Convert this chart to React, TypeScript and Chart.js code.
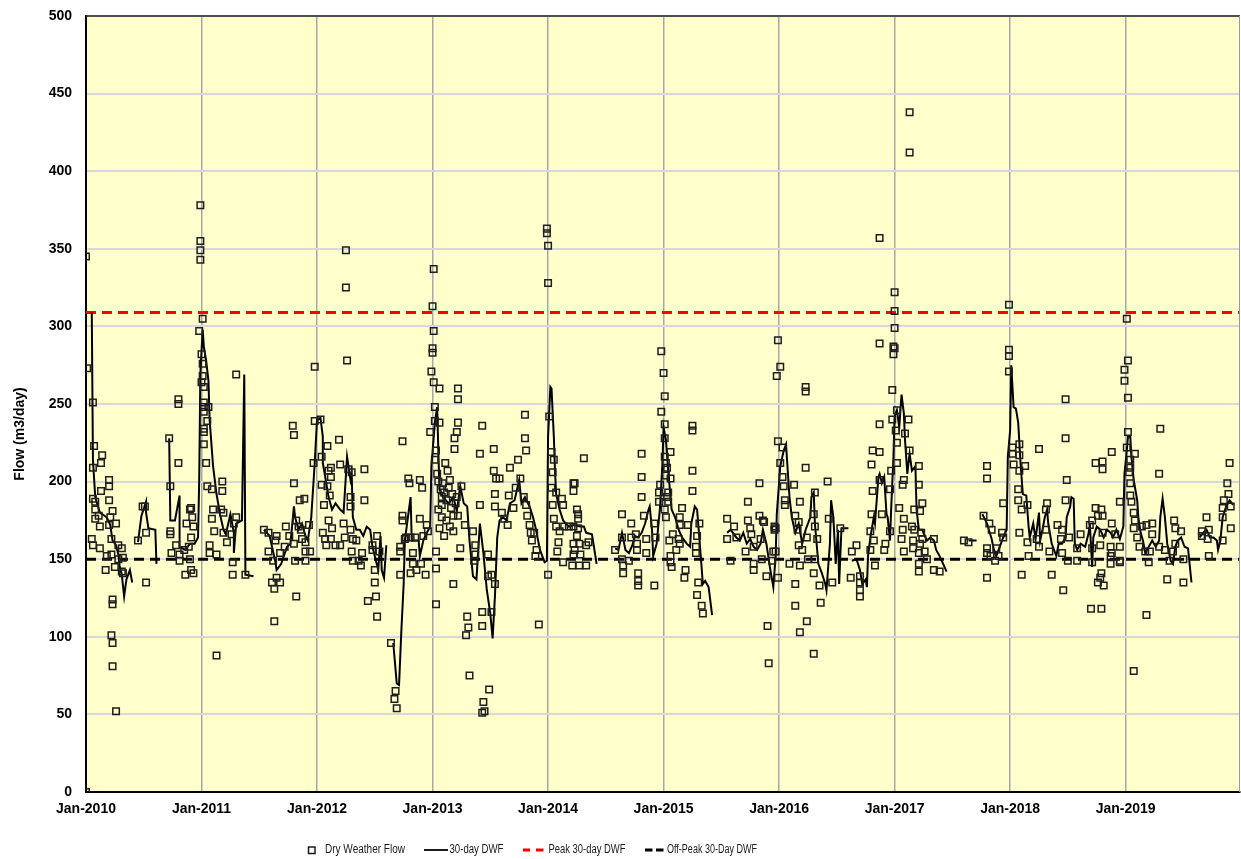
import React, { useEffect, useRef } from "react";
import { Chart, registerables } from "chart.js";
Chart.register(...registerables);

type P = [number, number];

const yearTicks = [2010, 2011, 2012, 2013, 2014, 2015, 2016, 2017, 2018, 2019];
const xMin = 2010;
const xMax = 2019.99;
const PEAK_30DAY = 309;
const OFFPEAK_30DAY = 150;

// Dry Weather Flow (decimal year, m3/day)
const dwf2010: P[] = [[2010.00,0],[2010.00,345],[2010.01,273],[2010.05,163],[2010.06,251],[2010.06,209],[2010.06,159],[2010.07,223],[2010.06,189],[2010.08,187],[2010.08,182],[2010.08,176],[2010.11,178],[2010.12,171],[2010.12,157],[2010.13,194],[2010.13,212],[2010.14,217],[2010.17,143],[2010.18,152],[2010.20,201],[2010.20,197],[2010.20,188],[2010.20,172],[2010.21,177],[2010.22,163],[2010.22,153],[2010.23,181],[2010.22,101],[2010.23,96],[2010.23,124],[2010.23,121],[2010.23,81],[2010.25,145],[2010.26,52],[2010.26,173],[2010.28,150],[2010.28,159],[2010.31,142],[2010.31,157],[2010.32,151],[2010.32,141],[2010.45,162],[2010.49,184],[2010.51,184],[2010.52,167],[2010.52,135],[2010.72,228],[2010.73,197],[2010.73,168],[2010.73,166],[2010.74,154],[2010.78,159],[2010.80,253],[2010.80,250],[2010.80,212],[2010.81,153],[2010.81,149],[2010.85,156],[2010.86,140],[2010.87,173],[2010.89,158],[2010.90,182],[2010.90,150],[2010.91,143],[2010.91,183],[2010.91,164],[2010.92,177],[2010.93,171],[2010.93,141],[2010.98,297],[2010.99,378],[2010.99,355],[2010.99,349],[2010.99,343]];
const dwf2011: P[] = [[2011.00,282],[2011.01,276],[2011.00,264],[2011.01,305],[2011.01,268],[2011.02,261],[2011.02,251],[2011.02,248],[2011.02,245],[2011.02,234],[2011.02,232],[2011.02,224],[2011.04,212],[2011.05,197],[2011.05,239],[2011.06,248],[2011.07,159],[2011.07,154],[2011.09,195],[2011.09,176],[2011.10,182],[2011.11,168],[2011.13,153],[2011.13,88],[2011.17,182],[2011.18,200],[2011.18,194],[2011.19,167],[2011.19,180],[2011.22,161],[2011.26,166],[2011.27,148],[2011.27,140],[2011.28,173],[2011.30,177],[2011.30,269],[2011.38,140],[2011.54,169],[2011.58,167],[2011.58,155],[2011.61,135],[2011.62,149],[2011.63,131],[2011.63,110],[2011.64,162],[2011.65,165],[2011.65,138],[2011.68,135],[2011.68,154],[2011.72,158],[2011.73,171],[2011.76,165],[2011.79,236],[2011.80,230],[2011.80,199],[2011.80,160],[2011.81,149],[2011.82,126],[2011.82,175],[2011.84,171],[2011.85,188],[2011.86,169],[2011.87,163],[2011.89,189],[2011.90,161],[2011.90,155],[2011.90,149],[2011.93,172],[2011.94,155],[2011.97,212],[2011.98,274],[2011.98,239]];
const dwf2012: P[] = [[2012.03,240],[2012.04,198],[2012.04,216],[2012.05,167],[2012.06,185],[2012.07,163],[2012.08,159],[2012.09,223],[2012.09,197],[2012.10,175],[2012.10,207],[2012.11,191],[2012.12,209],[2012.12,203],[2012.12,163],[2012.13,170],[2012.16,159],[2012.19,227],[2012.20,211],[2012.20,159],[2012.23,173],[2012.24,164],[2012.25,349],[2012.25,325],[2012.26,278],[2012.27,208],[2012.29,184],[2012.29,169],[2012.29,190],[2012.30,206],[2012.30,155],[2012.31,163],[2012.31,149],[2012.34,162],[2012.36,149],[2012.38,146],[2012.39,154],[2012.41,208],[2012.41,188],[2012.44,123],[2012.48,159],[2012.48,156],[2012.50,143],[2012.50,135],[2012.51,126],[2012.52,165],[2012.52,113],[2012.54,155],[2012.64,96],[2012.67,60],[2012.68,65],[2012.69,54],[2012.72,158],[2012.72,140],[2012.72,155],[2012.74,226],[2012.74,175],[2012.74,178],[2012.76,163],[2012.77,164],[2012.79,202],[2012.80,199],[2012.81,141],[2012.81,164],[2012.83,154],[2012.83,147],[2012.85,164],[2012.86,143],[2012.89,201],[2012.89,176],[2012.90,147],[2012.91,196],[2012.92,165],[2012.94,140],[2012.95,172],[2012.96,168],[2012.98,232],[2012.99,271]];
const dwf2013: P[] = [[2013.00,313],[2013.00,283],[2013.00,286],[2013.01,337],[2013.01,297],[2013.01,264],[2013.02,239],[2013.02,214],[2013.02,248],[2013.03,220],[2013.03,121],[2013.03,144],[2013.03,155],[2013.04,205],[2013.05,200],[2013.05,182],[2013.06,260],[2013.06,238],[2013.06,170],[2013.07,195],[2013.08,190],[2013.08,177],[2013.08,185],[2013.09,199],[2013.10,193],[2013.10,165],[2013.11,212],[2013.12,188],[2013.12,175],[2013.13,207],[2013.14,196],[2013.15,201],[2013.15,171],[2013.16,183],[2013.17,192],[2013.18,178],[2013.18,168],[2013.18,134],[2013.19,228],[2013.19,221],[2013.20,186],[2013.21,190],[2013.21,232],[2013.22,178],[2013.22,260],[2013.22,253],[2013.22,238],[2013.24,157],[2013.25,197],[2013.28,172],[2013.29,101],[2013.30,113],[2013.31,106],[2013.32,75],[2013.35,168],[2013.36,149],[2013.37,159],[2013.37,153],[2013.41,218],[2013.41,185],[2013.43,51],[2013.43,236],[2013.43,116],[2013.43,107],[2013.44,58],[2013.45,52],[2013.48,153],[2013.48,139],[2013.49,66],[2013.51,140],[2013.51,116],[2013.53,207],[2013.53,221],[2013.54,134],[2013.54,192],[2013.54,184],[2013.55,202],[2013.58,202],[2013.60,180],[2013.62,176],[2013.65,172],[2013.66,191],[2013.67,209],[2013.70,183],[2013.72,196],[2013.74,214],[2013.76,202],[2013.79,190],[2013.80,243],[2013.80,228],[2013.81,220],[2013.81,185],[2013.82,178],[2013.84,172],[2013.85,167],[2013.86,162],[2013.88,167],[2013.89,152],[2013.90,156],[2013.92,108],[2013.99,363],[2013.99,360]];
const dwf2014: P[] = [[2014.00,352],[2014.00,328],[2014.00,140],[2014.01,242],[2014.03,219],[2014.03,196],[2014.04,206],[2014.04,185],[2014.05,214],[2014.05,176],[2014.07,193],[2014.07,171],[2014.08,155],[2014.09,161],[2014.10,168],[2014.12,189],[2014.13,185],[2014.13,148],[2014.14,171],[2014.18,171],[2014.21,146],[2014.22,199],[2014.22,194],[2014.22,171],[2014.22,160],[2014.22,153],[2014.23,156],[2014.23,199],[2014.25,182],[2014.25,165],[2014.26,179],[2014.26,176],[2014.26,170],[2014.27,160],[2014.27,146],[2014.28,153],[2014.31,215],[2014.33,159],[2014.33,146],[2014.35,161],[2014.58,156],[2014.64,179],[2014.64,164],[2014.64,150],[2014.65,146],[2014.65,141],[2014.70,149],[2014.72,173],[2014.72,164],[2014.76,166],[2014.77,160],[2014.77,156],[2014.78,141],[2014.78,136],[2014.78,133],[2014.81,218],[2014.81,203],[2014.81,190],[2014.83,178],[2014.85,163],[2014.85,154],[2014.92,133],[2014.92,173],[2014.93,164],[2014.96,193],[2014.96,187],[2014.97,198],[2014.98,245],[2014.98,284]];
const dwf2015: P[] = [[2015.00,270],[2015.01,255],[2015.01,237],[2015.01,228],[2015.01,216],[2015.01,182],[2015.02,212],[2015.02,177],[2015.03,209],[2015.02,204],[2015.03,190],[2015.04,193],[2015.04,187],[2015.05,162],[2015.06,202],[2015.06,152],[2015.06,219],[2015.06,148],[2015.07,145],[2015.08,166],[2015.11,156],[2015.13,163],[2015.14,172],[2015.14,177],[2015.14,160],[2015.16,183],[2015.18,138],[2015.19,143],[2015.21,172],[2015.25,233],[2015.25,236],[2015.25,207],[2015.25,194],[2015.28,158],[2015.28,154],[2015.29,165],[2015.29,127],[2015.30,135],[2015.31,173],[2015.33,120],[2015.34,115],[2015.55,163],[2015.55,176],[2015.58,149],[2015.61,171],[2015.63,164],[2015.71,155],[2015.73,187],[2015.73,175],[2015.75,170],[2015.76,166],[2015.78,158],[2015.78,147],[2015.78,143],[2015.83,199],[2015.83,178],[2015.84,163],[2015.85,150],[2015.86,175],[2015.87,174],[2015.89,139],[2015.90,107],[2015.91,83],[2015.94,149],[2015.95,155],[2015.96,171],[2015.96,169],[2015.97,170],[2015.97,155],[2015.99,138],[2015.98,268],[2015.99,291],[2015.99,226]];
const dwf2016: P[] = [[2016.01,274],[2016.01,212],[2016.03,222],[2016.03,203],[2016.04,197],[2016.05,188],[2016.05,185],[2016.09,147],[2016.13,198],[2016.14,178],[2016.14,134],[2016.14,120],[2016.16,169],[2016.17,174],[2016.17,159],[2016.18,187],[2016.18,146],[2016.18,103],[2016.20,156],[2016.23,258],[2016.23,261],[2016.23,209],[2016.24,164],[2016.24,110],[2016.25,150],[2016.30,179],[2016.30,141],[2016.30,89],[2016.31,193],[2016.31,171],[2016.31,150],[2016.33,163],[2016.35,133],[2016.36,122],[2016.42,200],[2016.43,176],[2016.46,135],[2016.53,170],[2016.62,138],[2016.63,155],[2016.67,159],[2016.70,139],[2016.70,135],[2016.70,130],[2016.70,126],[2016.79,168],[2016.79,156],[2016.80,211],[2016.80,179],[2016.81,220],[2016.81,194],[2016.82,162],[2016.83,146],[2016.87,237],[2016.87,219],[2016.87,289],[2016.87,357],[2016.87,201],[2016.89,179],[2016.91,156],[2016.92,160],[2016.96,195],[2016.96,168],[2016.97,207],[2016.98,240],[2016.98,259],[2016.99,282],[2016.99,287]];
const dwf2017: P[] = [[2017.00,322],[2017.00,310],[2017.00,286],[2017.00,299],[2017.01,233],[2017.02,246],[2017.02,225],[2017.02,212],[2017.04,183],[2017.06,163],[2017.07,169],[2017.07,198],[2017.08,176],[2017.08,201],[2017.08,155],[2017.09,231],[2017.12,240],[2017.13,438],[2017.13,412],[2017.13,220],[2017.15,171],[2017.16,157],[2017.16,162],[2017.17,169],[2017.17,182],[2017.21,198],[2017.21,147],[2017.21,142],[2017.21,210],[2017.21,154],[2017.22,181],[2017.22,160],[2017.23,167],[2017.24,186],[2017.24,163],[2017.26,155],[2017.28,150],[2017.34,163],[2017.34,143],[2017.39,142],[2017.60,162],[2017.64,161],[2017.77,178],[2017.80,157],[2017.80,138],[2017.80,210],[2017.80,202],[2017.80,154],[2017.82,173],[2017.83,152],[2017.84,169],[2017.87,149],[2017.88,157],[2017.90,152],[2017.93,167],[2017.94,186],[2017.94,164],[2017.99,271],[2017.99,281],[2017.99,285],[2017.99,314]];
const dwf2018: P[] = [[2018.02,218],[2018.02,222],[2018.03,211],[2018.07,195],[2018.07,188],[2018.08,224],[2018.08,217],[2018.08,207],[2018.08,167],[2018.10,182],[2018.10,140],[2018.13,210],[2018.15,185],[2018.15,161],[2018.16,152],[2018.23,163],[2018.25,221],[2018.25,158],[2018.31,182],[2018.31,169],[2018.32,186],[2018.34,155],[2018.36,140],[2018.41,172],[2018.44,163],[2018.45,169],[2018.45,154],[2018.46,130],[2018.48,253],[2018.48,228],[2018.48,188],[2018.49,201],[2018.50,149],[2018.51,164],[2018.58,157],[2018.58,149],[2018.61,166],[2018.69,172],[2018.70,118],[2018.71,175],[2018.71,157],[2018.71,148],[2018.74,183],[2018.74,212],[2018.76,178],[2018.76,135],[2018.78,159],[2018.78,138],[2018.79,118],[2018.79,182],[2018.79,141],[2018.80,213],[2018.80,178],[2018.80,208],[2018.80,167],[2018.81,133],[2018.87,158],[2018.87,152],[2018.87,147],[2018.88,219],[2018.88,173],[2018.88,154],[2018.91,166],[2018.95,158],[2018.95,148],[2018.95,187],[2018.95,149],[2018.99,272],[2018.99,265]];
const dwf2019: P[] = [[2019.01,305],[2019.01,222],[2019.02,278],[2019.02,254],[2019.02,232],[2019.03,206],[2019.04,214],[2019.04,209],[2019.04,191],[2019.04,199],[2019.05,187],[2019.07,180],[2019.07,170],[2019.07,78],[2019.08,218],[2019.08,175],[2019.10,164],[2019.12,158],[2019.14,171],[2019.17,155],[2019.18,172],[2019.18,114],[2019.20,148],[2019.21,155],[2019.23,173],[2019.23,166],[2019.29,205],[2019.29,158],[2019.30,234],[2019.34,156],[2019.36,137],[2019.38,149],[2019.41,155],[2019.42,175],[2019.43,170],[2019.43,160],[2019.48,168],[2019.50,135],[2019.50,150],[2019.66,168],[2019.66,165],[2019.70,177],[2019.71,163],[2019.72,169],[2019.72,152],[2019.84,162],[2019.84,183],[2019.84,177],[2019.85,188],[2019.88,199],[2019.89,192],[2019.90,212],[2019.91,184],[2019.91,170]];

// 30-day DWF line segments (decimal year, m3/day); gaps between segments
const dwf30Seg1: P[] = [[2010.05,309],[2010.06,214],[2010.08,190],[2010.12,180],[2010.16,178],[2010.18,177],[2010.21,172],[2010.23,162],[2010.26,159],[2010.28,153],[2010.29,146],[2010.31,140],[2010.33,126],[2010.35,137],[2010.38,143],[2010.40,135]];
const dwf30Seg2: P[] = [[2010.45,161],[2010.48,178],[2010.52,187],[2010.52,180],[2010.54,170],[2010.60,169],[2010.61,147]];
const dwf30Seg3: P[] = [[2010.72,228],[2010.73,175],[2010.77,175],[2010.81,191],[2010.81,158],[2010.86,156],[2010.90,160],[2010.94,160],[2010.97,164],[2010.98,201],[2010.99,270],[2011.01,298],[2011.02,287],[2011.04,278],[2011.06,265],[2011.07,240],[2011.10,210],[2011.13,192],[2011.16,179],[2011.19,169],[2011.21,166],[2011.25,179],[2011.28,167],[2011.28,154],[2011.30,173],[2011.35,175],[2011.36,222],[2011.37,269],[2011.38,140],[2011.45,139]];
const dwf30Seg4: P[] = [[2011.54,169],[2011.59,165],[2011.64,148],[2011.65,143],[2011.69,147],[2011.74,158],[2011.77,160],[2011.80,184],[2011.81,177],[2011.84,169],[2011.87,173],[2011.90,165],[2011.92,162],[2011.95,177],[2011.98,212],[2012.00,240],[2012.03,241],[2012.05,229],[2012.05,212],[2012.08,199],[2012.10,190],[2012.13,182],[2012.16,186],[2012.20,182],[2012.23,180],[2012.26,216],[2012.29,201],[2012.30,205],[2012.31,177],[2012.34,169],[2012.37,169],[2012.40,165],[2012.43,171],[2012.46,169],[2012.48,158],[2012.51,149],[2012.53,143],[2012.55,165],[2012.56,143],[2012.58,138],[2012.60,159]];
const dwf30Seg5: P[] = [[2012.66,96],[2012.69,70],[2012.71,69],[2012.73,104],[2012.75,134],[2012.76,162],[2012.81,190],[2012.82,162],[2012.88,162],[2012.89,152],[2012.92,162],[2012.95,167],[2012.98,171],[2012.99,210],[2013.02,238],[2013.04,248],[2013.05,220],[2013.06,195],[2013.09,190],[2013.14,186],[2013.18,190],[2013.21,181],[2013.24,197],[2013.27,186],[2013.30,184],[2013.32,162],[2013.35,139],[2013.38,137],[2013.41,173],[2013.44,154],[2013.47,130],[2013.50,115],[2013.52,99],[2013.54,126],[2013.56,164],[2013.58,175],[2013.61,177],[2013.64,175],[2013.67,186],[2013.71,188],[2013.75,201],[2013.77,186],[2013.80,190],[2013.84,184],[2013.87,177],[2013.89,171],[2013.93,156],[2013.97,148],[2013.99,149],[2014.00,229],[2014.02,261],[2014.03,260],[2014.05,229],[2014.06,207],[2014.07,192],[2014.10,182],[2014.13,175],[2014.18,171],[2014.22,172],[2014.28,171],[2014.31,171],[2014.33,167],[2014.38,166],[2014.41,152],[2014.42,147]];
const dwf30Seg6: P[] = [[2014.58,157],[2014.61,156],[2014.64,167],[2014.67,156],[2014.70,154],[2014.73,159],[2014.75,165],[2014.78,164],[2014.81,167],[2014.84,173],[2014.87,182],[2014.88,184],[2014.90,169],[2014.91,152],[2014.94,160],[2014.97,184],[2014.99,212],[2015.00,235],[2015.02,227],[2015.04,207],[2015.07,182],[2015.10,177],[2015.13,169],[2015.16,164],[2015.20,160],[2015.23,158],[2015.24,173],[2015.27,184],[2015.29,182],[2015.32,154],[2015.34,134],[2015.36,136],[2015.39,132],[2015.42,114]];
const dwf30Seg7: P[] = [[2015.55,167],[2015.58,169],[2015.60,167],[2015.63,164],[2015.66,162],[2015.69,167],[2015.72,160],[2015.75,163],[2015.78,158],[2015.81,156],[2015.84,160],[2015.86,169],[2015.89,160],[2015.92,145],[2015.95,132],[2015.97,152],[2015.98,179],[2016.01,210],[2016.04,220],[2016.06,224],[2016.09,190],[2016.11,177],[2016.14,167],[2016.17,173],[2016.20,160],[2016.23,169],[2016.27,177],[2016.28,190],[2016.30,193],[2016.31,173],[2016.34,147],[2016.37,141],[2016.40,134],[2016.41,130],[2016.44,160],[2016.45,188],[2016.47,177],[2016.49,147],[2016.51,169],[2016.52,134],[2016.54,170],[2016.60,170]];
const dwf30Seg8: P[] = [[2016.63,149],[2016.67,150],[2016.70,143],[2016.72,134],[2016.75,137],[2016.76,132],[2016.77,152],[2016.79,164],[2016.82,177],[2016.83,173],[2016.86,203],[2016.87,205],[2016.89,199],[2016.91,203],[2016.93,179],[2016.94,177],[2016.96,162],[2016.97,182],[2016.99,216],[2017.00,242],[2017.02,246],[2017.04,235],[2017.06,256],[2017.08,244],[2017.09,227],[2017.11,205],[2017.12,212],[2017.13,218],[2017.15,207],[2017.18,210],[2017.19,182],[2017.21,169],[2017.24,169],[2017.25,167],[2017.28,162],[2017.31,164],[2017.34,162],[2017.36,156],[2017.39,152],[2017.42,147],[2017.45,142]];
const dwf30Seg9: P[] = [[2017.64,162],[2017.71,162]];
const dwf30Seg10: P[] = [[2017.76,179],[2017.80,173],[2017.84,163],[2017.86,156],[2017.88,152],[2017.91,158],[2017.94,164],[2017.97,169],[2017.98,216],[2018.00,233],[2018.01,275],[2018.03,248],[2018.05,247],[2018.07,238],[2018.09,212],[2018.11,192],[2018.14,191],[2018.16,171],[2018.17,164],[2018.20,173],[2018.22,163],[2018.25,180],[2018.26,162],[2018.28,169],[2018.30,177],[2018.32,182],[2018.33,173],[2018.36,160],[2018.39,154],[2018.40,152],[2018.42,160],[2018.45,160],[2018.48,164],[2018.49,177],[2018.52,184],[2018.53,190],[2018.55,189],[2018.56,160],[2018.58,156],[2018.61,160],[2018.65,158],[2018.68,167],[2018.69,173],[2018.71,145],[2018.72,164],[2018.75,171],[2018.78,169],[2018.81,164],[2018.84,169],[2018.87,167],[2018.89,164],[2018.92,169],[2018.95,163],[2018.98,171],[2018.99,205],[2019.01,220],[2019.02,229],[2019.04,229],[2019.05,216],[2019.07,201],[2019.10,188],[2019.11,177],[2019.13,167],[2019.15,162],[2019.17,154],[2019.20,158],[2019.23,162],[2019.26,158],[2019.29,162],[2019.30,177],[2019.32,189],[2019.34,177],[2019.36,160],[2019.39,149],[2019.41,147],[2019.43,158],[2019.45,162],[2019.48,164],[2019.51,158],[2019.54,157],[2019.57,135]];
const dwf30Seg11: P[] = [[2019.64,164],[2019.67,167],[2019.70,169],[2019.73,164],[2019.76,164],[2019.79,162],[2019.80,156],[2019.82,162],[2019.84,177],[2019.87,184],[2019.90,188],[2019.93,185]];

const dwfYears = [dwf2010, dwf2011, dwf2012, dwf2013, dwf2014, dwf2015, dwf2016, dwf2017, dwf2018, dwf2019];
const dwf30Segments = [dwf30Seg1, dwf30Seg2, dwf30Seg3, dwf30Seg4, dwf30Seg5, dwf30Seg6, dwf30Seg7, dwf30Seg8, dwf30Seg9, dwf30Seg10, dwf30Seg11];

const AXIS_FONT = "'Liberation Sans', Arial, sans-serif";
const LEGEND_FONT = "12px 'Liberation Sans Narrow', 'Arial Narrow', 'Liberation Sans', Arial, sans-serif";

export default function App() {
  const ref = useRef<HTMLCanvasElement>(null);

  useEffect(() => {
    document.body.style.margin = "0";
    const canvas = ref.current;
    if (!canvas) return;

    const scatterData = dwfYears.flat().map(([x, y]) => ({ x, y }));
    const lineData: { x: number; y: number | null }[] = [];
    dwf30Segments.forEach((seg, i) => {
      if (i > 0) lineData.push({ x: seg[0][0] - 0.002, y: null });
      seg.forEach(([x, y]) => lineData.push({ x, y }));
    });

    const framePlugin = {
      id: "frame",
      beforeDraw(chart: any) {
        const { ctx, chartArea: a } = chart;
        ctx.save();
        ctx.fillStyle = "#FFFFCC";
        ctx.fillRect(a.left, a.top, a.right - a.left, a.bottom - a.top);
        ctx.restore();
      },
      afterDraw(chart: any) {
        const { ctx, chartArea: a } = chart;
        ctx.save();
        ctx.strokeStyle = "#222";
        ctx.lineWidth = 1.5;
        ctx.beginPath();
        ctx.moveTo(a.left, a.top);
        ctx.lineTo(a.right, a.top);
        ctx.stroke();
        ctx.strokeStyle = "#9a9a9a";
        ctx.lineWidth = 1;
        ctx.beginPath();
        ctx.moveTo(a.right - 0.5, a.top);
        ctx.lineTo(a.right - 0.5, a.bottom);
        ctx.stroke();

        // y title
        ctx.fillStyle = "#000";
        ctx.font = `bold 14px ${AXIS_FONT}`;
        ctx.textAlign = "center";
        ctx.textBaseline = "middle";
        ctx.translate(20, 434);
        ctx.rotate(-Math.PI / 2);
        ctx.fillText("Flow (m3/day)", 0, 0);
        ctx.setTransform(1, 0, 0, 1, 0, 0);

        // legend
        const ly = 850;
        ctx.font = LEGEND_FONT;
        ctx.textAlign = "left";
        ctx.textBaseline = "middle";
        ctx.fillStyle = "#1a1a1a";
        ctx.strokeStyle = "#1a1a1a";
        ctx.lineWidth = 1.5;
        ctx.strokeRect(308.5, ly - 3, 6.5, 6.5);
        ctx.fillText("Dry Weather Flow", 325, ly, 80);
        ctx.lineWidth = 2;
        ctx.beginPath();
        ctx.moveTo(424, ly);
        ctx.lineTo(448, ly);
        ctx.stroke();
        ctx.fillText("30-day DWF", 449.5, ly, 54);
        ctx.lineWidth = 3;
        ctx.strokeStyle = "#FF0000";
        ctx.beginPath();
        ctx.moveTo(523, ly); ctx.lineTo(530, ly);
        ctx.moveTo(536, ly); ctx.lineTo(543.5, ly);
        ctx.stroke();
        ctx.fillText("Peak 30-day DWF", 548.5, ly, 77);
        ctx.strokeStyle = "#000";
        ctx.beginPath();
        ctx.moveTo(645, ly); ctx.lineTo(652.5, ly);
        ctx.moveTo(656, ly); ctx.lineTo(663.5, ly);
        ctx.stroke();
        ctx.fillText("Off-Peak 30-Day DWF", 667, ly, 90);
        ctx.restore();
      },
    };

    const chart = new Chart(canvas, {
      type: "scatter",
      data: {
        datasets: [
          {
            label: "Dry Weather Flow",
            data: scatterData,
            pointStyle: "rect",
            pointRadius: 4.6,
            pointBorderWidth: 1.5,
            pointBorderColor: "#1e1e1e",
            pointBackgroundColor: "rgba(0,0,0,0)",
            showLine: false,
            order: 1,
          },
          {
            label: "30-day DWF",
            data: lineData as any,
            showLine: true,
            spanGaps: false,
            borderColor: "#000",
            borderWidth: 2,
            pointRadius: 0,
            tension: 0,
            order: 2,
          },
          {
            label: "Peak 30-day DWF",
            data: [{ x: xMin, y: PEAK_30DAY }, { x: xMax, y: PEAK_30DAY }],
            showLine: true,
            borderColor: "#FF0000",
            borderWidth: 3,
            borderDash: [10, 6],
            pointRadius: 0,
            order: 3,
          },
          {
            label: "Off-Peak 30-Day DWF",
            data: [{ x: xMin, y: OFFPEAK_30DAY }, { x: xMax, y: OFFPEAK_30DAY }],
            showLine: true,
            borderColor: "#000",
            borderWidth: 3,
            borderDash: [10, 6],
            pointRadius: 0,
            order: 3,
          },
        ],
      },
      options: {
        responsive: false,
        animation: false,
        devicePixelRatio: 1,
        layout: { autoPadding: false, padding: { top: 16, right: 1, left: 0, bottom: 0 } },
        plugins: { legend: { display: false }, tooltip: { enabled: false } },
        scales: {
          x: {
            type: "linear",
            min: xMin,
            max: xMax,
            afterFit: (s: any) => {
              s.height = 67;
              s.paddingLeft = 0;
              s.paddingRight = 0;
            },
            afterBuildTicks: (s: any) => { s.ticks = yearTicks.map((v) => ({ value: v })); },
            ticks: {
              autoSkip: false,
              maxRotation: 0,
              padding: 9,
              color: "#000",
              font: { family: AXIS_FONT, size: 14, weight: "bold" },
              callback: (v: any) => `Jan-${Math.round(Number(v))}`,
            },
            grid: { color: "#a8a8a8", lineWidth: 1.5, drawTicks: false },
            border: { color: "#000", width: 2 },
          },
          y: {
            min: 0,
            max: 500,
            afterFit: (s: any) => {
              s.width = 86;
              s.paddingTop = 0;
              s.paddingBottom = 0;
            },
            ticks: {
              stepSize: 50,
              padding: 14,
              color: "#000",
              font: { family: AXIS_FONT, size: 14, weight: "bold" },
            },
            grid: { color: "#d8d8dc", lineWidth: 2, drawTicks: false },
            border: { color: "#000", width: 2 },
          },
        },
      },
      plugins: [framePlugin],
    });

    return () => chart.destroy();
  }, []);

  return (
    <div style={{ width: 1241, height: 859 }}>
      <canvas ref={ref} width={1241} height={859} />
    </div>
  );
}
